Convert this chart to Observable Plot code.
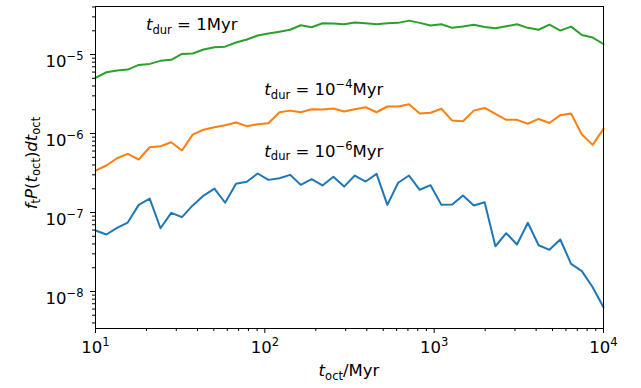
<!DOCTYPE html>
<html><head><meta charset="utf-8">
<script src="https://cdn.jsdelivr.net/npm/d3@7"></script>
<script src="https://cdn.jsdelivr.net/npm/@observablehq/plot@0.6"></script>
<style>body{margin:0;background:#fff;overflow:hidden} svg{font-family:"DejaVu Sans",sans-serif;}</style>
</head><body><div id="chart"></div>
<script>
// t_oct in Myr (log-spaced bins)
const tOct = [10, 11.6, 13.4, 15.5, 18.0, 20.9, 24.2, 28.0, 32.4, 37.5, 43.5, 50.4, 58.3, 67.6, 78.3, 90.7,
  105, 122, 141, 163, 189, 219, 254, 294, 340, 394, 457, 529, 613, 710, 822, 952,
  1103, 1278, 1480, 1714, 1986, 2300, 2664, 3086, 3574, 4140, 4796, 5555, 6434, 7453, 8633, 10000];
// t_dur = 1 Myr (green)
const pDur1 = [5.07e-6, 5.97e-6, 6.27e-6, 6.46e-6, 7.40e-6, 7.62e-6, 8.32e-6, 8.57e-6, 1.02e-5, 1.03e-5, 1.16e-5, 1.24e-5,
  1.26e-5, 1.42e-5, 1.55e-5, 1.74e-5, 1.85e-5, 1.95e-5, 2.06e-5, 2.35e-5, 2.22e-5, 2.49e-5, 2.47e-5, 2.42e-5,
  2.54e-5, 2.49e-5, 2.42e-5, 2.49e-5, 2.52e-5, 2.69e-5, 2.52e-5, 2.33e-5, 2.42e-5, 2.18e-5, 2.26e-5, 2.38e-5,
  2.24e-5, 2.15e-5, 2.28e-5, 2.42e-5, 2.18e-5, 2.06e-5, 2.40e-5, 2.01e-5, 2.26e-5, 1.77e-5, 1.64e-5, 1.36e-5];
// t_dur = 1e-4 Myr (orange)
const pDur4 = [3.40e-7, 3.94e-7, 4.86e-7, 5.53e-7, 4.69e-7, 6.71e-7, 6.90e-7, 7.76e-7, 6.10e-7, 9.70e-7, 1.12e-6, 1.20e-6,
  1.27e-6, 1.38e-6, 1.24e-6, 1.31e-6, 1.35e-6, 1.86e-6, 1.95e-6, 1.86e-6, 2.03e-6, 2.01e-6, 2.07e-6, 1.90e-6,
  2.03e-6, 2.15e-6, 1.86e-6, 2.20e-6, 2.20e-6, 2.35e-6, 1.79e-6, 1.83e-6, 2.06e-6, 1.46e-6, 1.43e-6, 1.95e-6,
  2.11e-6, 1.77e-6, 1.49e-6, 1.49e-6, 1.33e-6, 1.53e-6, 1.36e-6, 1.71e-6, 1.79e-6, 9.70e-7, 7.19e-7, 1.15e-6];
// t_dur = 1e-6 Myr (blue)
const pDur6 = [5.92e-8, 5.27e-8, 6.40e-8, 7.46e-8, 1.25e-7, 1.50e-7, 6.32e-8, 9.91e-8, 8.73e-8, 1.23e-7, 1.64e-7, 2.01e-7,
  1.33e-7, 2.31e-7, 2.45e-7, 3.12e-7, 2.59e-7, 2.72e-7, 3.00e-7, 2.24e-7, 2.64e-7, 2.20e-7, 2.83e-7, 2.13e-7,
  2.94e-7, 2.47e-7, 3.09e-7, 1.25e-7, 2.38e-7, 2.94e-7, 1.94e-7, 2.22e-7, 1.25e-7, 1.26e-7, 1.64e-7, 1.23e-7,
  1.35e-7, 3.74e-8, 5.47e-8, 3.94e-8, 7.41e-8, 3.85e-8, 3.37e-8, 4.55e-8, 2.24e-8, 1.81e-8, 1.13e-8, 6.32e-9];

const seriesNames = ["dur1", "dur4", "dur6"];
const seriesColors = ["#2ca02c", "#ff7f0e", "#1f77b4"];
const xTicks = [10, 100, 1000, 10000];
const xTickExp = ["1", "2", "3", "4"];
const yTicks = [1e-8, 1e-7, 1e-6, 1e-5];
const yTickExp = ["\u22128", "\u22127", "\u22126", "\u22125"];
// annotation anchors (data coords) and labels
const annX = [20, 100, 100];
const annY = [2e-5, 3e-6, 5e-7];
const annExp = [null, "\u22124", "\u22126"];
const annVal = ["1", "10", "10"];

const FS = 16.5;
const seriesValues = [pDur1, pDur4, pDur6];
const rows = [];
seriesNames.forEach((s, k) => tOct.forEach((t, i) => rows.push({series: s, t, p: seriesValues[k][i]})));

const minorX = [];
for (const d of [10, 100, 1000]) for (let m = 2; m <= 9; m++) minorX.push(m * d);
const minorY = [];
for (const d of [1e-9, 1e-8, 1e-7, 1e-6, 1e-5]) for (let m = 2; m <= 9; m++) { const v = m * d; if (v >= 3.4e-9 && v <= 4.06e-5) minorY.push(v); }

const chart = Plot.plot({
  width: 641, height: 388,
  marginLeft: 95, marginRight: 38, marginTop: 6, marginBottom: 60,
  x: {type: "log", domain: [10, 1e4]},
  y: {type: "log", domain: [3.4e-9, 4.06e-5]},
  color: {domain: seriesNames, range: seriesColors},
  style: {fontFamily: "DejaVu Sans, sans-serif", background: "#fff", color: "#000"},
  marks: [
    Plot.line(rows, {x: "t", y: "p", z: "series", stroke: "series", strokeWidth: 2}),
    Plot.frame({stroke: "#000", strokeWidth: 1}),
    Plot.axisX(xTicks, {tickSize: 5, tickPadding: 8, fontSize: FS, label: null, tickFormat: (d) => "10^" + xTickExp[xTicks.indexOf(d)]}),
    Plot.axisX(minorX, {tickSize: 3, label: null, tickFormat: () => ""}),
    Plot.axisY(yTicks, {tickSize: 5, tickPadding: 7, fontSize: FS, label: null, tickFormat: (d) => "10^" + yTickExp[yTicks.indexOf(d)]}),
    Plot.axisY(minorY, {tickSize: 3, label: null, tickFormat: () => ""})
  ]
});
document.getElementById("chart").appendChild(chart);

const svg = d3.select(chart);
// superscript tick labels
svg.selectAll("text").each(function () {
  const el = d3.select(this);
  const txt = this.textContent;
  if (txt.includes("^")) {
    const [base, exp] = txt.split("^");
    el.text(null);
    el.append("tspan").text(base);
    el.append("tspan").attr("font-size", "70%").attr("dy", "-0.6em").text(exp);
  }
});
svg.selectAll('g[aria-label="y-axis tick label"] text').attr("dy", "0.42em");

// rich text helper: segments [{t, i(italic), sub, sup}]
function rich(g, segs, fs) {
  const text = g.attr("font-size", fs).attr("fill", "#000");
  let shift = 0;
  segs.forEach(s => {
    const target = s.sub ? 0.22 * fs : s.sup ? -0.42 * fs : 0;
    const sp = text.append("tspan").text(s.t).attr("dy", target - shift);
    shift = target;
    if (s.i) sp.attr("font-style", "italic");
    if (s.sub || s.sup) sp.attr("font-size", 0.7 * fs);
  });
  return text;
}
const sx = chart.scale("x"), sy = chart.scale("y");

annX.forEach((xv, k) => {
  const segs = [{t: "t", i: true}, {t: "dur", sub: true}, {t: " = " + annVal[k]}];
  if (annExp[k]) segs.push({t: annExp[k], sup: true});
  segs.push({t: "Myr"});
  rich(svg.append("text").attr("text-anchor", "start").attr("x", sx.apply(xv)).attr("y", sy.apply(annY[k])), segs, FS);
});

rich(svg.append("text").attr("x", (sx.apply(10) + sx.apply(1e4)) / 2).attr("y", 376).attr("text-anchor", "middle"),
  [{t: "t", i: true}, {t: "oct", sub: true}, {t: "/Myr"}], FS);

rich(svg.append("text").attr("transform", `translate(36.5,163) rotate(-90)`).attr("text-anchor", "middle"),
  [{t: "f", i: true}, {t: "t", sub: true}, {t: "P", i: true}, {t: "("}, {t: "t", i: true}, {t: "oct", sub: true}, {t: ")"},
   {t: "dt", i: true}, {t: "oct", sub: true}], FS);
</script></body></html>
